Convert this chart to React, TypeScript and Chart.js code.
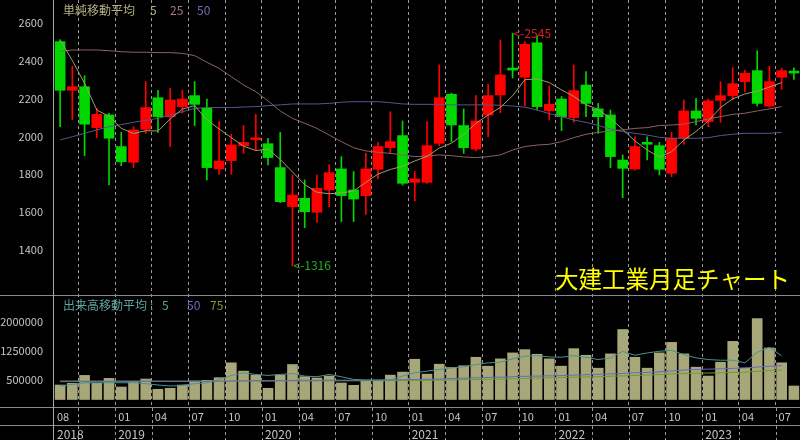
import React, { useEffect, useRef } from 'react';
import { Chart, registerables } from 'chart.js';
Chart.register(...registerables);

const months = [
  '2018-08','2018-09','2018-10','2018-11','2018-12',
  '2019-01','2019-02','2019-03','2019-04','2019-05','2019-06','2019-07','2019-08','2019-09','2019-10','2019-11','2019-12',
  '2020-01','2020-02','2020-03','2020-04','2020-05','2020-06','2020-07','2020-08','2020-09','2020-10','2020-11','2020-12',
  '2021-01','2021-02','2021-03','2021-04','2021-05','2021-06','2021-07','2021-08','2021-09','2021-10','2021-11','2021-12',
  '2022-01','2022-02','2022-03','2022-04','2022-05','2022-06','2022-07','2022-08','2022-09','2022-10','2022-11','2022-12',
  '2023-01','2023-02','2023-03','2023-04','2023-05','2023-06','2023-07','2023-08',
];

const opens = [
  2500,2243,2262,2046,2113,
  1946,1863,2037,2204,2104,2157,2215,2148,1828,1872,1951,1982,
  1961,1835,1629,1673,1599,1717,1828,1717,1687,1826,1940,2004,
  1757,1757,1963,2222,2057,1933,2113,2219,2356,2312,2494,2135,
  2197,2099,2271,2145,2113,1875,1828,1962,1951,1805,1990,2134,
  2078,2190,2215,2289,2347,2160,2312,2338,
];
const highs = [
  2510,2370,2320,2148,2122,
  2021,2051,2289,2243,2254,2245,2289,2197,2078,2011,2057,2116,
  1990,2021,1796,1770,1796,1849,1893,1814,1910,1968,2130,2081,
  1814,2078,2377,2228,2145,2215,2275,2509,2545,2500,2530,2266,
  2210,2377,2342,2174,2139,1902,1998,1998,1968,2021,2192,2201,
  2197,2289,2363,2350,2452,2371,2360,2362,
];
const lows = [
  2051,2088,1898,1993,1743,
  1845,1835,2016,2021,1946,2122,2057,1770,1800,1800,1910,1928,
  1849,1650,1316,1518,1546,1629,1550,1550,1588,1775,1910,1743,
  1659,1752,1951,1972,1910,1923,1998,2125,2308,2160,2139,2086,
  2030,2074,2104,2016,1835,1676,1822,1875,1796,1787,1958,2060,
  2051,2074,2192,2236,2160,2153,2248,2301,
];
const closes = [
  2243,2262,2064,2116,1990,
  1866,2034,2152,2104,2192,2197,2169,1835,1870,1954,1968,1988,
  1888,1655,1690,1602,1726,1808,1687,1669,1828,1946,1972,1752,
  1775,1951,2204,2060,1940,2081,2215,2324,2350,2486,2157,2169,
  2104,2241,2174,2104,1893,1831,1946,1958,1826,1990,2134,2095,
  2187,2215,2278,2333,2174,2289,2347,2334,
];

const ma5 = [
  2510,2400,2280,2139,2106,
  2042,2015,2030,2028,2092,2144,2162,2088,2039,1993,1948,1925,
  1933,1878,1812,1745,1705,1697,1701,1712,1757,1801,1825,1842,
  1870,1894,1938,1964,2010,2069,2113,2153,2214,2299,2303,2284,
  2245,2211,2167,2142,2094,2037,1976,1928,1890,1919,1980,2026,
  2081,2152,2198,2224,2238,2260,2284,null,
];
const ma25 = [
  2447,2456,2456,2456,2452,
  2447,2444,2444,2442,2442,2438,2426,2391,2359,2315,2271,2236,
  2187,2134,2095,2069,2042,2007,1972,1940,1923,1916,1910,1902,
  1893,1896,1902,1898,1891,1888,1893,1902,1928,1946,1954,1958,
  1972,1993,2011,2021,2028,2034,2042,2046,2057,2060,2064,2078,
  2092,2104,2116,2122,2134,2145,2157,null,
];
const ma50 = [
  1981,1998,2016,2034,2051,
  2062,2074,2085,2095,2112,2130,2148,2152,2152,2152,2155,2157,
  2162,2166,2171,2171,2171,2174,2180,2183,2183,2183,2178,2171,
  2169,2169,2169,2166,2166,2166,2166,2164,2160,2154,2139,2120,
  2104,2086,2074,2057,2039,2025,2016,2007,1995,1990,1990,1990,
  1993,2004,2011,2016,2016,2016,2021,null,
];

const volume = [
  374000,418000,623000,418000,546000,
  323000,461000,529000,264000,290000,374000,477000,495000,564000,949000,734000,631000,
  290000,631000,905000,590000,555000,606000,426000,367000,477000,477000,631000,708000,
  1041000,656000,913000,828000,872000,1092000,862000,1051000,1205000,1290000,1170000,1051000,
  862000,1315000,1144000,810000,1180000,1810000,1092000,810000,1205000,1477000,1180000,836000,
  606000,964000,1503000,810000,2092000,1333000,949000,349000,
];
const volMa5 = [
  349000,390000,433000,433000,433000,
  433000,433000,410000,375000,349000,366000,410000,433000,520000,622000,690000,648000,
  622000,648000,673000,605000,588000,648000,588000,520000,503000,503000,503000,605000,
  690000,733000,776000,818000,844000,904000,947000,964000,1050000,1118000,1135000,1101000,
  1092000,1135000,1092000,1033000,1076000,1246000,1144000,1204000,1246000,1272000,1161000,1076000,
  1033000,1016000,1016000,947000,1220000,1349000,1130000,null,
];
const volMa50 = [
  460000,462000,465000,465000,467000,
  467000,470000,470000,470000,468000,468000,470000,472000,475000,480000,484000,487000,
  487000,490000,495000,497000,497000,500000,500000,500000,500000,502000,505000,510000,
  518000,522000,530000,540000,550000,560000,568000,578000,590000,600000,605000,612000,
  620000,631000,640000,650000,662000,673000,690000,700000,716000,740000,760000,776000,
  785000,793000,805000,818000,840000,860000,878000,null,
];
const volMa75 = [
  477000,477000,476000,476000,476000,
  475000,475000,475000,475000,474000,474000,474000,474000,475000,476000,477000,478000,
  478000,479000,480000,480000,481000,482000,483000,484000,485000,486000,488000,490000,
  493000,496000,500000,505000,512000,516000,520000,528000,536000,545000,554000,563000,
  570000,576000,580000,590000,600000,611000,622000,633000,645000,665000,672000,680000,
  685000,690000,700000,707000,730000,750000,760000,null,
];

const priceTicks = [1400, 1600, 1800, 2000, 2200, 2400, 2600];
const volumeTicks = [500000, 1250000, 2000000];
const quarterMonths = ['01', '04', '07', '10'];
const highMark = { index: 37, value: 2545, label: '<-2545' };
const lowMark = { index: 19, value: 1316, label: '<-1316' };
const titleText = '大建工業月足チャート';
const priceLegend = { name: '単純移動平均', periods: ['5', '25', '50'] };
const volumeLegend = { name: '出来高移動平均', periods: ['5', '50', '75'] };

const FONT = '"Noto Sans CJK JP", "DejaVu Sans", sans-serif';
const UP = '#ff0000';
const DOWN = '#00d800';
const GRID = '#9a9a9a';
const LABEL = '#c4c4c4';

const noPad = (s: any) => {
  s.paddingTop = 0;
  s.paddingBottom = 0;
  s.paddingLeft = 0;
  s.paddingRight = 0;
};

const decor = {
  id: 'decor',
  beforeDraw(chart: any) {
    const { ctx, width, height } = chart;
    ctx.save();
    ctx.fillStyle = '#000';
    ctx.fillRect(0, 0, width, height);
    ctx.restore();
  },
  afterDraw(chart: any) {
    const { ctx, chartArea, scales, width, height } = chart;
    const x = scales.x, y = scales.y, yv = scales.yv;
    const slot = x.getPixelForValue(1) - x.getPixelForValue(0);
    const bottom = Math.round(chartArea.bottom);
    const left = Math.round(chartArea.left);
    ctx.save();
    ctx.lineWidth = 1;
    ctx.strokeStyle = '#8a8a8a';
    const hline = (yy: number) => {
      ctx.beginPath();
      ctx.moveTo(0, yy + 0.5);
      ctx.lineTo(width, yy + 0.5);
      ctx.stroke();
    };
    hline(Math.round(yv.top));
    hline(bottom);
    hline(bottom + 18);
    ctx.strokeStyle = '#a8a8a8';
    ctx.beginPath();
    ctx.moveTo(left - 0.5, 0);
    ctx.lineTo(left - 0.5, height);
    ctx.stroke();

    // dashed quarter lines through label rows
    ctx.strokeStyle = GRID;
    ctx.setLineDash([3, 3]);
    months.forEach((m, i) => {
      if (quarterMonths.includes(m.slice(5))) {
        const px = Math.round(x.getPixelForValue(i) - slot / 2) + 0.5;
        ctx.beginPath();
        ctx.moveTo(px, bottom + 1);
        ctx.lineTo(px, height);
        ctx.stroke();
      }
    });
    ctx.setLineDash([]);

    // month & year labels
    ctx.fillStyle = LABEL;
    ctx.textAlign = 'left';
    ctx.textBaseline = 'middle';
    months.forEach((m, i) => {
      const mm = m.slice(5);
      const lx = x.getPixelForValue(i) - slot / 2 + 3;
      if (i === 0 || (i > 2 && quarterMonths.includes(mm))) {
        ctx.font = `11px ${FONT}`;
        ctx.fillText(mm, lx, bottom + 10);
      }
      if (i === 0 || mm === '01') {
        ctx.font = `12px ${FONT}`;
        ctx.fillText(m.slice(0, 4), lx, bottom + 27);
      }
    });

    // legends
    ctx.font = `12px ${FONT}`;
    ctx.fillStyle = '#b4b084';
    ctx.fillText(priceLegend.name, 63, 10);
    ctx.fillText(priceLegend.periods[0], 150, 10);
    ctx.fillStyle = '#a87878';
    ctx.fillText(priceLegend.periods[1], 170, 10);
    ctx.fillStyle = '#6e6eb0';
    ctx.fillText(priceLegend.periods[2], 197, 10);

    const vy = Math.round(yv.top) + 10;
    ctx.fillStyle = '#5fa4a4';
    ctx.fillText(volumeLegend.name, 63, vy);
    ctx.fillText(':', 150, vy);
    ctx.fillText(volumeLegend.periods[0], 162, vy);
    ctx.fillStyle = '#6a6ab4';
    ctx.fillText(volumeLegend.periods[1], 187, vy);
    ctx.fillStyle = '#7c9c34';
    ctx.fillText(volumeLegend.periods[2], 210, vy);

    // high / low marks
    ctx.font = `12px ${FONT}`;
    ctx.fillStyle = '#d82020';
    ctx.fillText(highMark.label, x.getPixelForValue(highMark.index) + 1, y.getPixelForValue(highMark.value));
    ctx.fillStyle = '#20b020';
    ctx.fillText(lowMark.label, x.getPixelForValue(lowMark.index) + 1, y.getPixelForValue(lowMark.value));

    // title
    ctx.font = `23.5px ${FONT}`;
    ctx.fillStyle = '#ffff00';
    ctx.fillText(titleText, 555, 279);
    ctx.restore();
  },
};

export default function App() {
  const ref = useRef<HTMLCanvasElement>(null);
  useEffect(() => {
    const candleColors = closes.map((c, i) => (c >= opens[i] ? UP : DOWN));
    const chart = new Chart(ref.current as HTMLCanvasElement, {
      type: 'bar',
      data: {
        labels: months,
        datasets: [
          { type: 'line', data: ma5, yAxisID: 'y', borderColor: '#a09c6c', borderWidth: 1, pointRadius: 0, order: 0 } as any,
          { type: 'line', data: ma25, yAxisID: 'y', borderColor: '#8a6262', borderWidth: 1, pointRadius: 0, order: 0 } as any,
          { type: 'line', data: ma50, yAxisID: 'y', borderColor: '#56568e', borderWidth: 1, pointRadius: 0, order: 0 } as any,
          {
            type: 'bar', data: lows.map((l, i) => [l, highs[i]]), yAxisID: 'y',
            backgroundColor: candleColors, barThickness: 1, grouped: false, order: 3,
          } as any,
          {
            type: 'bar', data: opens.map((o, i) => [Math.min(o, closes[i]), Math.max(o, closes[i])]), yAxisID: 'y',
            backgroundColor: candleColors, barThickness: 10, minBarLength: 2, grouped: false, order: 2,
          } as any,
          {
            type: 'bar', data: volume, yAxisID: 'yv',
            backgroundColor: '#a8a77a', barThickness: 10, grouped: false, order: 2,
          } as any,
          { type: 'line', data: volMa5, yAxisID: 'yv', borderColor: '#4a9292', borderWidth: 1, pointRadius: 0, order: 0 } as any,
          { type: 'line', data: volMa50, yAxisID: 'yv', borderColor: '#6868c0', borderWidth: 1, pointRadius: 0, order: 0 } as any,
          { type: 'line', data: volMa75, yAxisID: 'yv', borderColor: '#6aa02e', borderWidth: 1, pointRadius: 0, order: 0 } as any,
        ],
      },
      options: {
        responsive: false,
        animation: false,
        devicePixelRatio: 1,
        layout: { padding: 0 },
        plugins: { legend: { display: false }, tooltip: { enabled: false } },
        scales: {
          x: {
            type: 'category',
            offset: true,
            grid: {
              offset: true,
              drawTicks: false,
              lineWidth: 1,
              color: (c: any) => {
                const m = months[c.index];
                return m && quarterMonths.includes(m.slice(5)) ? GRID : 'rgba(0,0,0,0)';
              },
            },
            border: { display: false, dash: [3, 3] },
            ticks: { display: false },
            afterFit: (s: any) => { s.height = 33; noPad(s); },
          },
          yv: {
            type: 'linear',
            position: 'left',
            stack: 'panels',
            stackWeight: 112,
            min: -194000,
            max: 2702000,
            grid: { display: false },
            border: { display: false },
            ticks: { color: LABEL, font: { family: FONT, size: 11 }, padding: 3, callback: (v: any) => String(v) },
            afterBuildTicks: (s: any) => { s.ticks = volumeTicks.map((v) => ({ value: v })); },
            afterFit: (s: any) => { s.width = 54; noPad(s); },
          },
          y: {
            type: 'linear',
            position: 'left',
            stack: 'panels',
            stackWeight: 295,
            min: 1162.4,
            max: 2719.8,
            grid: { display: false },
            border: { display: false },
            ticks: { color: LABEL, font: { family: FONT, size: 11 }, padding: 3, callback: (v: any) => String(v) },
            afterBuildTicks: (s: any) => { s.ticks = priceTicks.map((v) => ({ value: v })); },
            afterFit: (s: any) => { s.width = 54; noPad(s); },
          },
        } as any,
      },
      plugins: [decor],
    } as any);
    return () => chart.destroy();
  }, []);
  return (
    <div style={{ position: 'fixed', left: 0, top: 0, width: 800, height: 440, background: '#000' }}>
      <canvas ref={ref} width={800} height={440} style={{ display: 'block', width: 800, height: 440 }} />
    </div>
  );
}
